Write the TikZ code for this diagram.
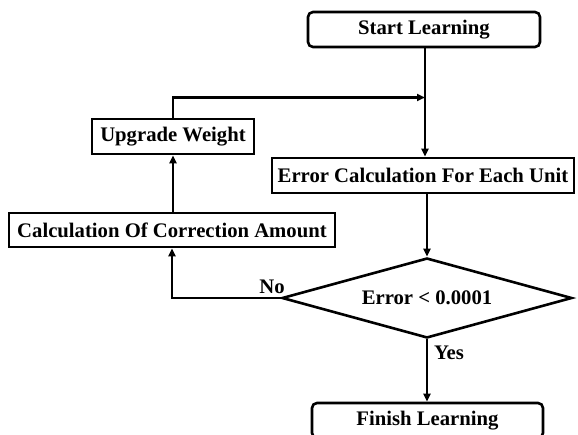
\documentclass[tikz,border=0pt]{standalone}
\usepackage{fontspec}
\setmainfont{Liberation Serif}
\usetikzlibrary{shapes.geometric,arrows.meta}
\begin{document}
\begin{tikzpicture}[x=1pt,y=-1pt,
  line width=2.6pt,
  every node/.style={font=\fontsize{20.7}{24}\selectfont\bfseries},
  procbox/.style={draw, rectangle, inner sep=0pt, minimum height=35pt},
  termbox/.style={procbox, rounded corners=5pt},
  decision/.style={draw, diamond, inner sep=0pt, aspect=3.625,
    minimum width=290pt, minimum height=80pt},
  flow/.style={-{Triangle[length=8pt,width=7pt]}, line width=2.4pt},
  lbl/.style={inner sep=0pt}]
\clip (0,0) rectangle (578,434);
\fill[white] (0,0) rectangle (578,434);

% process steps
\node[termbox, minimum width=232pt] (start) at (424,29.5) {Start Learning};
\node[procbox, minimum width=302pt] (err) at (423,175.5) {Error Calculation For Each Unit};
\node[procbox, minimum width=162pt] (upd) at (173,136.5) {Upgrade Weight};
\node[procbox, minimum width=326pt, minimum height=34pt] (corr) at (172,230) {Calculation Of Correction Amount};
\node[decision] (dec) at (427,298) {Error < 0.0001};
\node[termbox, minimum width=231pt] (fin) at (427.5,420.5) {Finish Learning};

% junction where the feedback loop rejoins the main line
\coordinate (merge) at (425,97.5);

% connectors
\draw[flow] (start.south -| merge) -- (err.north -| merge);
\draw[flow] (upd.north) |- (merge);
\draw[flow] (err.south -| dec.north) -- (dec.north);
\draw[flow] (dec.west) -| (corr.south);
\draw[flow] (corr.north -| upd.south) -- (upd.south);
\draw[flow] (dec.south) -- (fin.north -| dec.south);

% branch labels
\node[lbl] (no) at (272,287) {No};
\node[lbl] (yes) at (449,353) {Yes};
\end{tikzpicture}
\end{document}
